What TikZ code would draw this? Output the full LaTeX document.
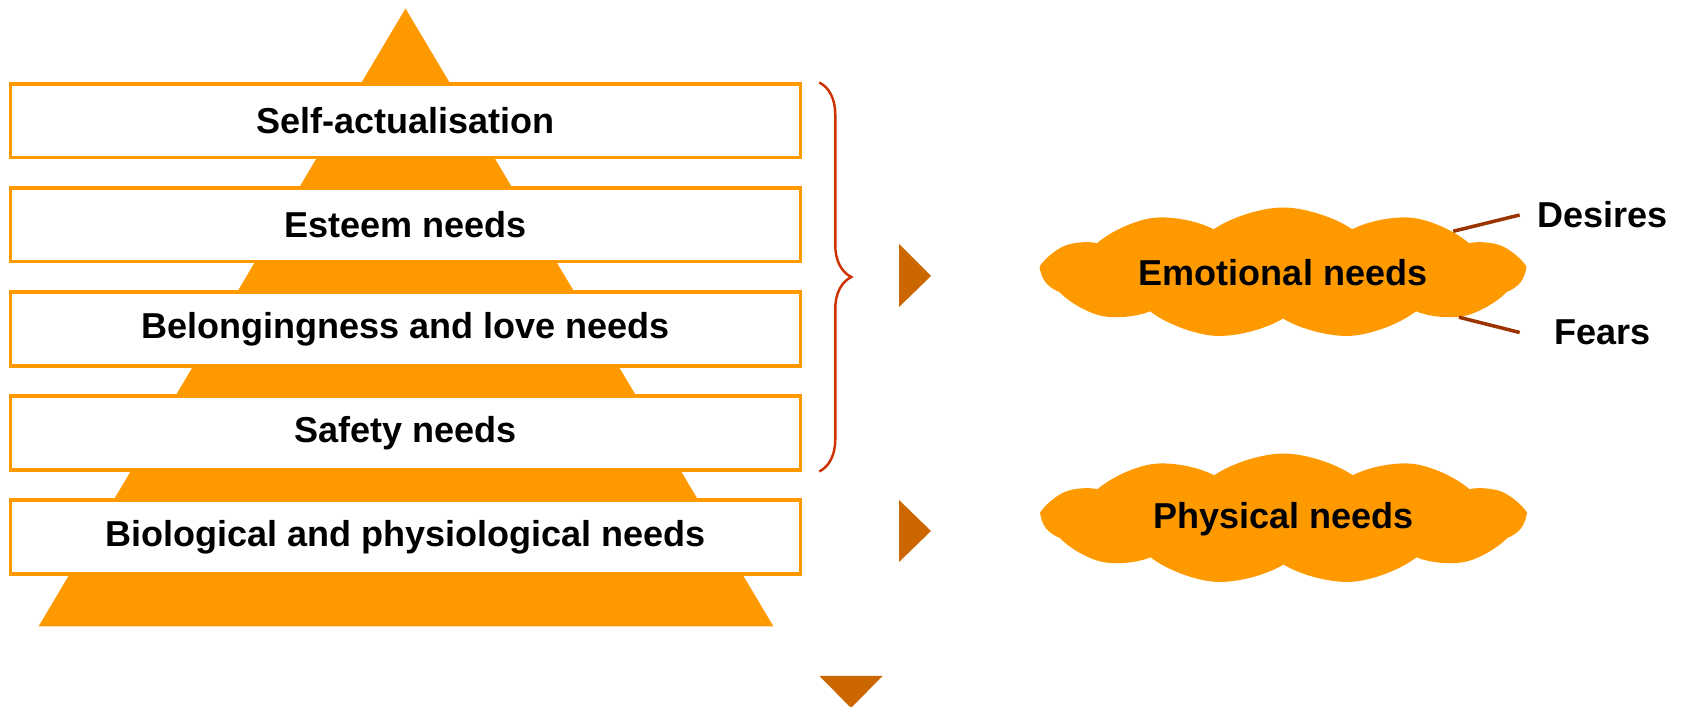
\documentclass[tikz,border=0pt]{standalone}
\usepackage{fontspec}
\setmainfont{Liberation Sans}
\usetikzlibrary{shapes.symbols,decorations.pathreplacing}
\definecolor{pyramidorange}{HTML}{FF9900}
\definecolor{pointerorange}{HTML}{CC6600}
\definecolor{bracered}{HTML}{CC3300}
\definecolor{linebrown}{HTML}{993300}
\begin{document}
\begin{tikzpicture}
[levelbox/.style={shape=rectangle,draw=pyramidorange,line width=2pt,fill=white,
   minimum width=15.8cm,minimum height=1.47cm,inner sep=0pt,
   font=\fontsize{20.5}{24}\selectfont\bfseries},%
  needcloud/.style={shape=cloud,fill=pyramidorange,cloud puffs=11,
   cloud puff arc=70,aspect=4.6,minimum width=9.6cm,minimum height=2.62cm,
   inner sep=0pt,font=\fontsize{20.5}{24}\selectfont\bfseries},%
  sidelabel/.style={minimum width=3.3cm,inner sep=0pt,
   font=\fontsize{20.5}{24}\selectfont\bfseries},%
  pointer/.style={fill=pointerorange},%
  branchline/.style={-,draw=linebrown,line width=2pt}]
\useasboundingbox (0,0) rectangle (33.64,14.12);
%% pyramid behind the levels
\fill[pyramidorange] (0.77,1.59) -- (8.11,13.95) -- (15.47,1.59) -- cycle;
%% levels of the pyramid
\foreach \nodename/\y/\caption in {self/11.70/Self-actualisation,
  esteem/9.62/Esteem needs, love/7.54/Belongingness and love needs,
  safety/5.46/Safety needs, bio/3.38/Biological and physiological needs}
{
  \node (\nodename) at (8.11,\y) [levelbox] {\caption};
}
%% brace over the upper four levels
\draw[bracered,line width=1.4pt,decorate,decoration={brace,amplitude=0.64cm}]
  ([xshift=0.34cm]self.north east) -- ([xshift=0.34cm]safety.south east);
%% pointers
\fill[pointer] (17.98,9.24) -- (18.62,8.60) -- (17.98,7.98) -- cycle;
\fill[pointer] (17.98,4.12) -- (18.62,3.50) -- (17.98,2.88) -- cycle;
\fill[pointer] (16.39,0.60) -- (17.65,0.60) -- (17.02,-0.04) -- cycle;
%% clouds and labels
\node (emotional) at (25.66,8.66) [needcloud] {Emotional needs};
\node (physical) at (25.67,3.74) [needcloud] {Physical needs};
\node (desires) at (32.05,9.82) [sidelabel] {Desires};
\node (fears) at (32.05,7.47) [sidelabel] {Fears};
%% lines
\path
\foreach \endnode in {desires, fears} {
  (\endnode.west) edge[branchline] (emotional)
};
\end{tikzpicture}
\end{document}
